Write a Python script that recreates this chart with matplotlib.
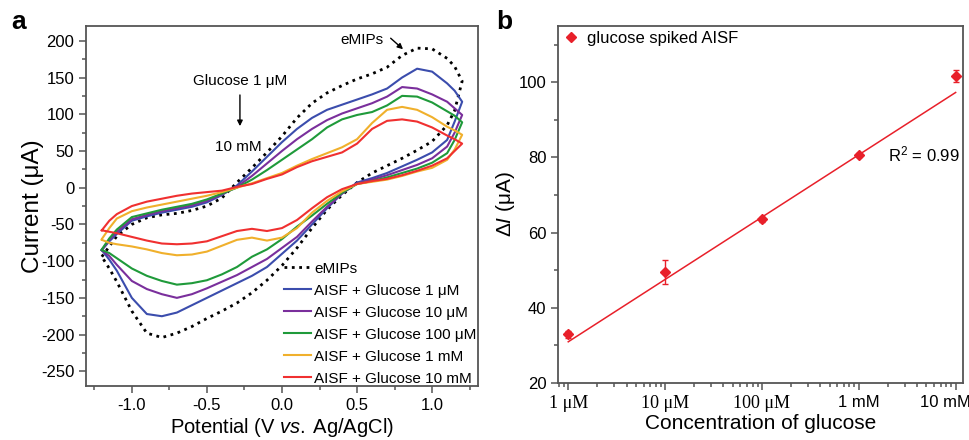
import numpy as np
import matplotlib
matplotlib.use("Agg")
import matplotlib.pyplot as plt
from matplotlib.ticker import MultipleLocator, LogLocator, NullFormatter
from matplotlib.lines import Line2D
from matplotlib.transforms import ScaledTranslation

plt.rcParams['font.family'] = ['Liberation Sans', 'DejaVu Sans']
plt.rcParams['mathtext.fontset'] = 'custom'
plt.rcParams['mathtext.rm'] = 'Liberation Sans'
plt.rcParams['mathtext.it'] = 'Liberation Sans:italic'
plt.rcParams['axes.unicode_minus'] = False

# ---- panel a: cyclic voltammograms (potential in V, current in uA) ----
E_fwd = [-1.2, -1.15, -1.1, -1.0, -0.9, -0.8, -0.7, -0.6, -0.5, -0.4, -0.3, -0.2, -0.1,
         0.0, 0.1, 0.2, 0.3, 0.4, 0.5, 0.6, 0.7, 0.8, 0.9, 1.0, 1.1, 1.15, 1.2]
E_rev = E_fwd[::-1]

emips_fwd = [-94, -80, -66, -50, -41, -37, -35, -31, -25, -14, 7, 27, 48,
             70, 95, 115, 129, 139, 148, 155, 164, 180, 190, 189, 176, 165, 145]
emips_rev = [145, 105, 85, 63, 51, 40, 30, 20, 7, -10, -30, -55, -82,
             -106, -126, -143, -157, -168, -178, -189, -198, -204, -198, -168, -128, -110, -94]

blue_fwd = [-85, -73, -63, -45, -39, -34, -30, -26, -20, -10, 3, 22, 42,
            62, 80, 95, 106, 113, 120, 127, 135, 150, 162, 158, 142, 132, 117]
blue_rev = [117, 90, 65, 48, 38, 29, 20, 13, 7, -8, -28, -50, -72,
            -90, -108, -120, -130, -140, -150, -160, -170, -175, -172, -150, -113, -98, -85]

purple_fwd = [-85, -71, -60, -43, -37, -32, -28, -24, -18, -9, 1, 16, 33,
              50, 66, 80, 92, 101, 108, 115, 124, 137, 135, 127, 117, 108, 99]
purple_rev = [99, 75, 56, 40, 31, 24, 17, 11, 6, -8, -26, -46, -67,
              -82, -97, -108, -119, -128, -137, -145, -150, -145, -138, -127, -105, -93, -85]

green_fwd = [-84, -69, -57, -40, -35, -30, -26, -22, -16, -8, 0, 11, 24,
             38, 52, 66, 82, 93, 99, 103, 112, 125, 124, 116, 104, 98, 89]
green_rev = [89, 65, 47, 34, 26, 20, 14, 9, 5, -7, -22, -38, -53,
             -70, -84, -94, -108, -118, -126, -130, -132, -127, -120, -110, -96, -89, -85]

orange_fwd = [-70, -55, -42, -32, -27, -23, -19, -15, -11, -6, 0, 6, 13,
              20, 30, 39, 47, 55, 66, 88, 106, 110, 106, 96, 83, 78, 72]
orange_rev = [72, 52, 38, 27, 22, 16, 11, 8, 5, -5, -18, -34, -55,
              -68, -72, -68, -71, -79, -87, -91, -92, -89, -84, -80, -77, -75, -71]

red_fwd = [-58, -45, -36, -25, -19, -15, -11, -8, -6, -4, 1, 5, 12,
           18, 28, 36, 42, 48, 60, 80, 91, 93, 90, 82, 71, 66, 60]
red_rev = [60, 50, 40, 30, 23, 17, 12, 9, 5, -2, -13, -28, -44,
           -55, -59, -56, -59, -66, -73, -76, -77, -76, -72, -67, -62, -60, -58]

cv_labels = ['eMIPs', 'AISF + Glucose 1 \u03bcM', 'AISF + Glucose 10 \u03bcM',
             'AISF + Glucose 100 \u03bcM', 'AISF + Glucose 1 mM', 'AISF + Glucose 10 mM']
cv_colors = ['black', '#3b4dad', '#7a2f9c', '#1f9a3a', '#f0b02c', '#f03030']
cv_fwd = [emips_fwd, blue_fwd, purple_fwd, green_fwd, orange_fwd, red_fwd]
cv_rev = [emips_rev, blue_rev, purple_rev, green_rev, orange_rev, red_rev]

# ---- panel b: calibration ----
conc = [1e-6, 1e-5, 1e-4, 1e-3, 1e-2]
conc_labels = ['1 \u03bcM', '10 \u03bcM', '100 \u03bcM', '1 mM', '10 mM']
delta_i = [32.9, 49.5, 63.5, 80.7, 101.6]
delta_err = [1.0, 3.2, 0.6, 0.5, 1.6]
fit_slope = 16.6      # uA per decade
fit_at_1uM = 30.9

spine_c = '#555555'
red_b = '#e8202a'

fig = plt.figure(figsize=(9.7, 4.4), dpi=100)
ax1 = fig.add_axes([0.0887, 0.1227, 0.404, 0.818])
ax2 = fig.add_axes([0.5756, 0.1302, 0.4175, 0.8107])

for ax in (ax1, ax2):
    for s in ax.spines.values():
        s.set_color(spine_c)
        s.set_linewidth(1.3)
    ax.tick_params(which='both', direction='out', color=spine_c, labelsize=12, width=1.1)
    ax.tick_params(which='major', length=5)
    ax.tick_params(which='minor', length=3)

# panel a
for lab, col, f, r in zip(cv_labels, cv_colors, cv_fwd, cv_rev):
    ls = ':' if lab == 'eMIPs' else '-'
    lw = 2.0 if lab == 'eMIPs' else 1.5
    ax1.plot(E_fwd + E_rev, f + r, color=col, ls=ls, lw=lw, label=lab)

ax1.set_xlim(-1.305, 1.305)
ax1.set_ylim(-270, 220)
ax1.xaxis.set_major_locator(MultipleLocator(0.5))
ax1.xaxis.set_minor_locator(MultipleLocator(0.25))
ax1.yaxis.set_major_locator(MultipleLocator(50))
ax1.yaxis.set_minor_locator(MultipleLocator(25))
ax1.xaxis.set_major_formatter(matplotlib.ticker.FormatStrFormatter('%.1f'))
ax1.set_xlabel('Potential (V $\\mathit{vs.}$\u2009Ag/AgCl)', fontsize=14.5, labelpad=2)
ax1.set_ylabel('Current (\u03bcA)', fontsize=17.5, labelpad=-2)

ax1.legend(loc='lower right', bbox_to_anchor=(1.018, -0.022), frameon=False, fontsize=11,
           handlelength=1.75, handletextpad=0.2, labelspacing=0.52, borderaxespad=0.15)

ax1.annotate('', xy=(0.82, 186), xytext=(0.71, 206),
             arrowprops=dict(arrowstyle='-|>', color='black', lw=1.0, mutation_scale=8))
ax1.text(0.53, 201, 'eMIPs', fontsize=11, ha='center', va='center')
ax1.text(-0.28, 145, 'Glucose 1 \u03bcM', fontsize=11, ha='center', va='center')
ax1.annotate('', xy=(-0.28, 80), xytext=(-0.28, 130),
             arrowprops=dict(arrowstyle='-|>', color='black', lw=1.0, mutation_scale=8))
ax1.text(-0.29, 55, '10 mM', fontsize=11, ha='center', va='center')

# panel b
ax2.set_xscale('log')
ax2.errorbar(conc, delta_i, yerr=delta_err, fmt='D', color=red_b, ms=5,
             elinewidth=1.0, capsize=2.5, capthick=1.0)
fit_x = np.array([conc[0], conc[-1]])
ax2.plot(fit_x, fit_at_1uM + fit_slope * np.log10(fit_x / conc[0]), color=red_b, lw=1.1)
ax2.set_xlim(0.79e-6, 1.2e-2)
ax2.set_ylim(20, 115)
ax2.set_xticks(conc)
ax2.set_xticklabels(conc_labels)
ax2.xaxis.set_minor_locator(LogLocator(base=10, subs=np.arange(2, 10)))
ax2.xaxis.set_minor_formatter(NullFormatter())
ax2.yaxis.set_major_locator(MultipleLocator(20))
ax2.yaxis.set_minor_locator(MultipleLocator(10))
for t, lab in zip(ax2.get_xticklabels(), conc_labels):
    if '\u03bc' in lab:
        t.set_family('Liberation Serif')
        t.set_fontsize(13)
    else:
        t.set_fontsize(12)
    if lab == '10 mM':
        t.set_transform(t.get_transform() + ScaledTranslation(-0.1, 0, fig.dpi_scale_trans))
ax2.set_xlabel('Concentration of glucose', fontsize=15, labelpad=2)
ax2.set_ylabel('$\\Delta I$ (\u03bcA)', fontsize=15, labelpad=1)
ax2.text(0.815, 0.64, 'R$^2$ = 0.99', transform=ax2.transAxes, fontsize=12,
         ha='left', va='center')
handle = Line2D([], [], marker='D', ms=5, ls='none', color=red_b)
ax2.legend([handle], ['glucose spiked AISF'], loc='upper left', frameon=False, fontsize=12,
           handletextpad=0.55, borderaxespad=0.1, handlelength=0.9, borderpad=0.2)

fig.text(0.012, 0.95, 'a', fontsize=19, fontweight='bold', va='center')
fig.text(0.512, 0.95, 'b', fontsize=19, fontweight='bold', va='center')

fig.savefig('out.png', dpi=100)
